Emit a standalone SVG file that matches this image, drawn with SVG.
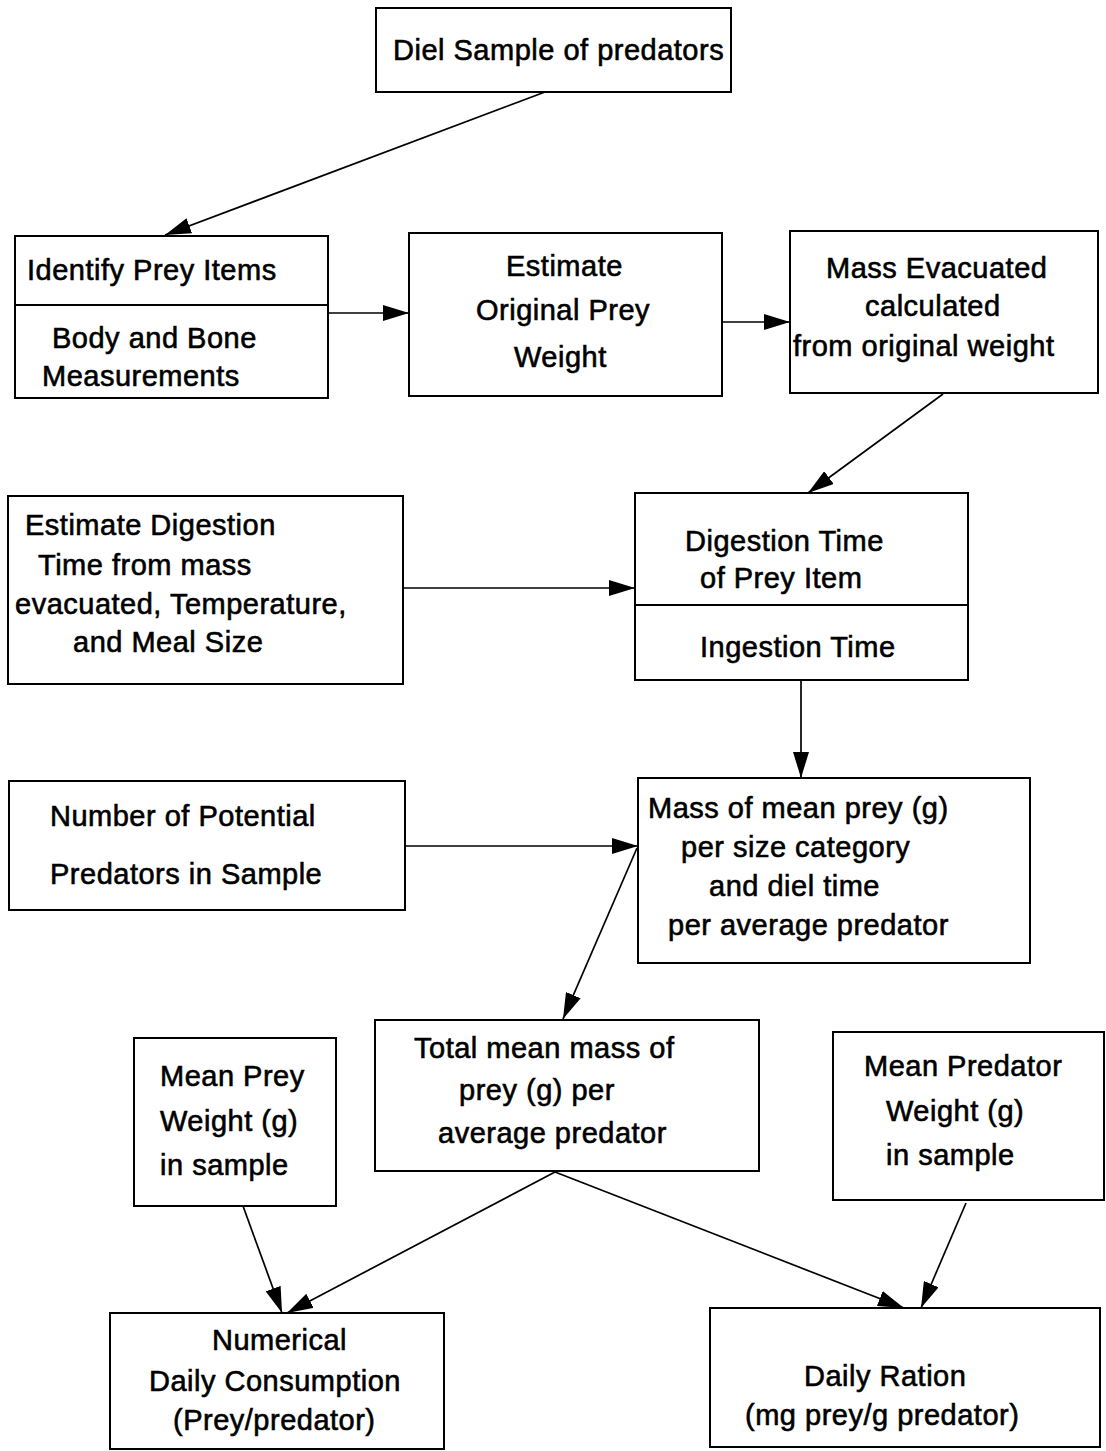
<svg xmlns="http://www.w3.org/2000/svg" width="1106" height="1451" viewBox="0 0 1106 1451">
<style>
.box{fill:#fff;stroke:#000;stroke-width:2}
.div{stroke:#000;stroke-width:2}
.t{font-family:"Liberation Sans",Arial,sans-serif;font-size:29px;letter-spacing:0.5px;fill:#000;stroke:#000;stroke-width:0.6}
.c{fill:none;stroke:#000;stroke-width:1.7;marker-end:url(#ah)}
</style>
<defs>
<marker id="ah" markerUnits="userSpaceOnUse" markerWidth="26" markerHeight="16" refX="26" refY="8" orient="auto">
<path d="M0,0 L26,8 L0,16 z" fill="#000"/>
</marker>
</defs>
<rect width="1106" height="1451" fill="#fff"/>
<g id="connectors">
<line class="c" x1="545" y1="92" x2="165" y2="235"/>
<line class="c" x1="328" y1="313" x2="409" y2="313"/>
<line class="c" x1="722" y1="322" x2="790" y2="322"/>
<line class="c" x1="943" y1="394" x2="808" y2="493"/>
<line class="c" x1="403" y1="588" x2="635" y2="588"/>
<line class="c" x1="801" y1="680" x2="801" y2="778"/>
<line class="c" x1="405" y1="846" x2="638" y2="846"/>
<line class="c" x1="637" y1="848" x2="563" y2="1019"/>
<line class="c" x1="555" y1="1172" x2="287" y2="1313"/>
<line class="c" x1="555" y1="1172" x2="904" y2="1308"/>
<line class="c" x1="243" y1="1206" x2="282" y2="1313"/>
<line class="c" x1="966" y1="1203" x2="921" y2="1308"/>
</g>
<g id="diel">
<rect class="box" x="376" y="8" width="355" height="84"/>
<text class="t" x="393" y="60">Diel Sample of predators</text>
</g>
<g id="identify">
<rect class="box" x="15" y="236" width="313" height="162"/>
<line class="div" x1="15" y1="305" x2="328" y2="305"/>
<text class="t" x="27" y="280">Identify Prey Items</text>
<text class="t" x="52" y="348">Body and Bone</text>
<text class="t" x="42" y="386">Measurements</text>
</g>
<g id="origweight">
<rect class="box" x="409" y="233" width="313" height="163"/>
<text class="t" x="506" y="276">Estimate</text>
<text class="t" x="476" y="320">Original Prey</text>
<text class="t" x="514" y="367">Weight</text>
</g>
<g id="massevac">
<rect class="box" x="790" y="231" width="308" height="162"/>
<text class="t" x="826" y="278">Mass Evacuated</text>
<text class="t" x="865" y="316">calculated</text>
<text class="t" x="793" y="356">from original weight</text>
</g>
<g id="estdigestion">
<rect class="box" x="8" y="496" width="395" height="188"/>
<text class="t" x="25" y="535">Estimate Digestion</text>
<text class="t" x="38" y="575">Time from mass</text>
<text class="t" x="15" y="614">evacuated, Temperature,</text>
<text class="t" x="73" y="652">and Meal Size</text>
</g>
<g id="digestiontime">
<rect class="box" x="635" y="493" width="333" height="187"/>
<line class="div" x1="635" y1="605" x2="968" y2="605"/>
<text class="t" x="685" y="551">Digestion Time</text>
<text class="t" x="700" y="588">of Prey Item</text>
<text class="t" x="700" y="657">Ingestion Time</text>
</g>
<g id="numpredators">
<rect class="box" x="9" y="781" width="396" height="129"/>
<text class="t" x="50" y="826">Number of Potential</text>
<text class="t" x="50" y="884">Predators in Sample</text>
</g>
<g id="massmean">
<rect class="box" x="638" y="778" width="392" height="185"/>
<text class="t" x="648" y="818">Mass of mean prey (g)</text>
<text class="t" x="681" y="857">per size category</text>
<text class="t" x="709" y="896">and diel time</text>
<text class="t" x="668" y="935">per average predator</text>
</g>
<g id="totalmean">
<rect class="box" x="375" y="1020" width="384" height="151"/>
<text class="t" x="414" y="1058">Total mean mass of</text>
<text class="t" x="459" y="1100">prey (g) per</text>
<text class="t" x="438" y="1143">average predator</text>
</g>
<g id="meanprey">
<rect class="box" x="134" y="1038" width="202" height="168"/>
<text class="t" x="160" y="1086">Mean Prey</text>
<text class="t" x="160" y="1131">Weight (g)</text>
<text class="t" x="160" y="1175">in sample</text>
</g>
<g id="meanpredator">
<rect class="box" x="833" y="1032" width="271" height="168"/>
<text class="t" x="864" y="1076">Mean Predator</text>
<text class="t" x="886" y="1121">Weight (g)</text>
<text class="t" x="886" y="1165">in sample</text>
</g>
<g id="numerical">
<rect class="box" x="110" y="1313" width="334" height="136"/>
<text class="t" x="212" y="1350">Numerical</text>
<text class="t" x="149" y="1391">Daily Consumption</text>
<text class="t" x="173" y="1430">(Prey/predator)</text>
</g>
<g id="dailyration">
<rect class="box" x="710" y="1308" width="390" height="139"/>
<text class="t" x="804" y="1386">Daily Ration</text>
<text class="t" x="745" y="1425">(mg prey/g predator)</text>
</g>
</svg>
